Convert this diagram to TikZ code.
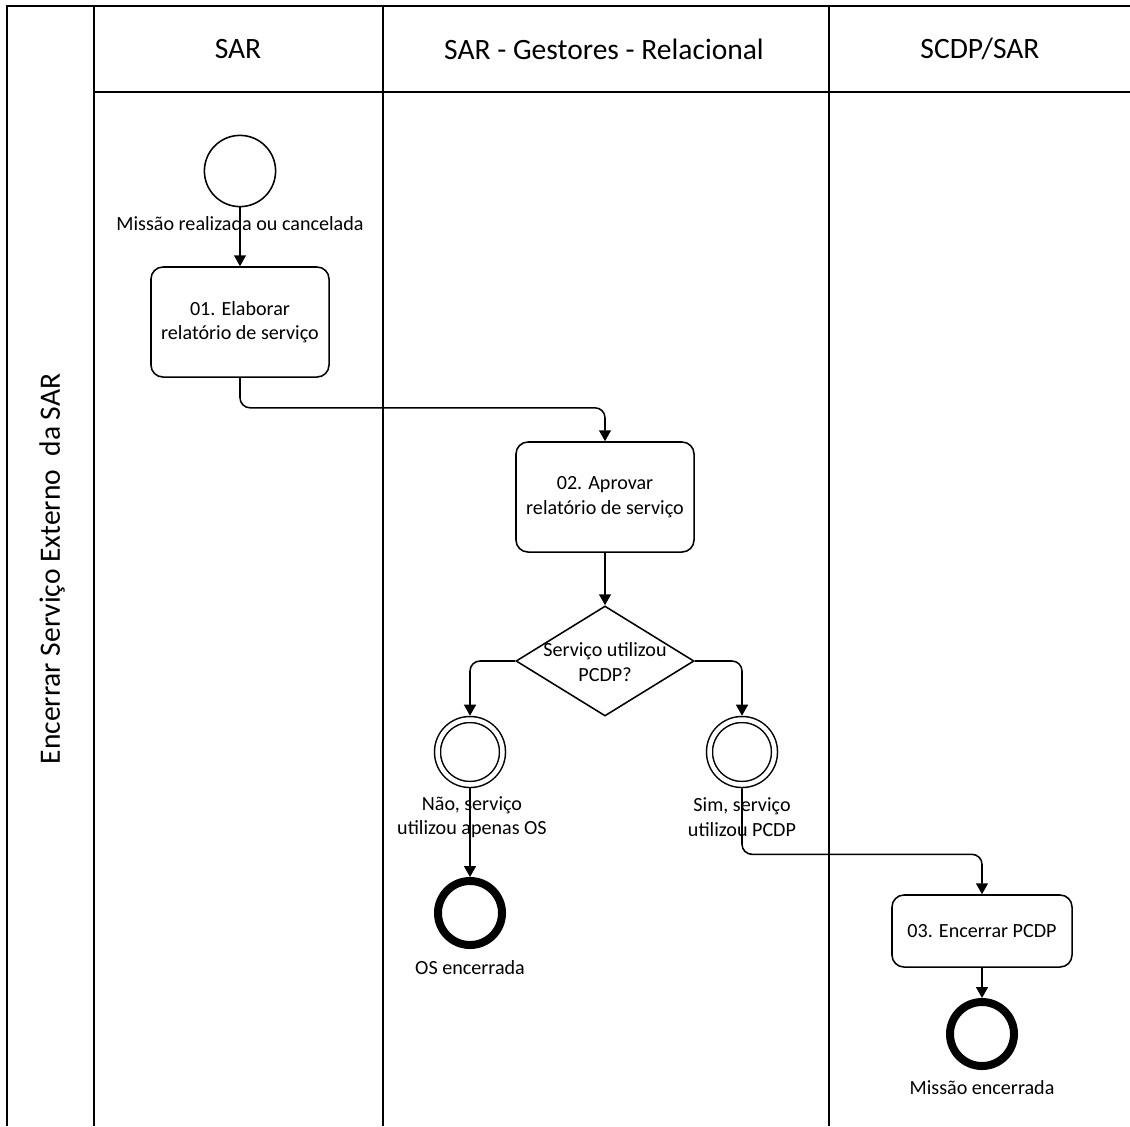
\documentclass[tikz,border=0pt]{standalone}
\usepackage{fontspec}
\setmainfont{Carlito}
\usetikzlibrary{shapes.geometric,arrows.meta}

\newcommand{\bodyfont}{\fontsize{14.3pt}{17.3pt}\selectfont}
\newcommand{\headfont}{\fontsize{21pt}{24pt}\selectfont}

\tikzset{lane/.style={line width=1.3pt},
    head/.style={font=\headfont,inner sep=0pt},
    lbl/.style={font=\bodyfont,align=center,inner sep=0pt},
    task/.style={draw,line width=1.1pt,rounded corners=0.3cm,minimum width=4.45cm,minimum height=2.75cm,align=center,font=\bodyfont},
    gateway/.style={draw,diamond,line width=1.1pt,minimum width=4.45cm,minimum height=2.75cm,inner sep=0pt},
    startev/.style={draw,circle,line width=1.1pt,minimum size=1.78cm},
    midev/.style={draw,circle,line width=1.07pt,double,double distance=3.2pt,minimum size=1.625cm,outer sep=2.7pt},
    endev/.style={draw,circle,line width=0.2cm,minimum size=1.6cm},
    flow/.style={line width=1.1pt,rounded corners=0.25cm,-{Triangle[width=8.5pt,length=7.8pt]}}}

\begin{document}
\begin{tikzpicture}[x=0.025cm,y=-0.025cm]
        \useasboundingbox (0,0) rectangle (1130,1126);
        % pool and lanes
        \draw[lane] (1130,6) -- (7,6) -- (7,1126);
        \draw[lane] (94,6) -- (94,1126);
        \draw[lane] (383,6) -- (383,1126);
        \draw[lane] (829,6) -- (829,1126);
        \draw[lane] (94,92) -- (1130,92);
        \node[head,rotate=90] (pool) at (52,569) {Encerrar Serviço Externo\ \ da SAR};
        \node[head] (hsar) at (238,49) {SAR};
        \node[head] (hgest) at (604,49) {SAR - Gestores - Relacional};
        \node[head] (hscdp) at (980,49) {SCDP/SAR};
        % events, tasks and gateway
        \node[startev] (start) at (240,171) {};
        \node[lbl] (startlbl) at (240,224) {Missão realizada ou cancelada};
        \node[task] (t1) at (240,322) {01. Elaborar\\relatório de serviço};
        \node[task] (t2) at (605,497) {02. Aprovar\\relatório de serviço};
        \node[gateway] (gw) at (605,661) {};
        \node[lbl] (gwlbl) at (605,662) {Serviço utilizou\\PCDP?};
        \node[midev] (no) at (470,752) {};
        \node[midev] (yes) at (742,752) {};
        \node[lbl] (nolbl) at (472,817) {Não, serviço\\utilizou apenas OS};
        \node[lbl] (yeslbl) at (742,817) {Sim, serviço\\utilizou PCDP};
        \node[endev] (noend) at (470,913) {};
        \node[lbl] (noendlbl) at (470,968) {OS encerrada};
        \node[task,minimum width=4.5cm,minimum height=1.8cm] (t3) at (982,931) {03. Encerrar PCDP};
        \node[endev] (yesend) at (982,1034) {};
        \node[lbl] (yesendlbl) at (982,1088) {Missão encerrada};
        % sequence flows
        \draw[flow] (start) -- (t1);
        \draw[flow] (t1.south) -- ++(0,30) -| (t2.north);
        \draw[flow] (t2) -- (gw);
        \draw[flow] (gw.west) -| (no);
        \draw[flow] (gw.east) -| (yes);
        \draw[flow] (no) -- (noend);
        \draw[flow] (yes.south) -- ++(0,66) -| (t3.north);
        \draw[flow] (t3) -- (yesend);
    \end{tikzpicture}
\end{document}
